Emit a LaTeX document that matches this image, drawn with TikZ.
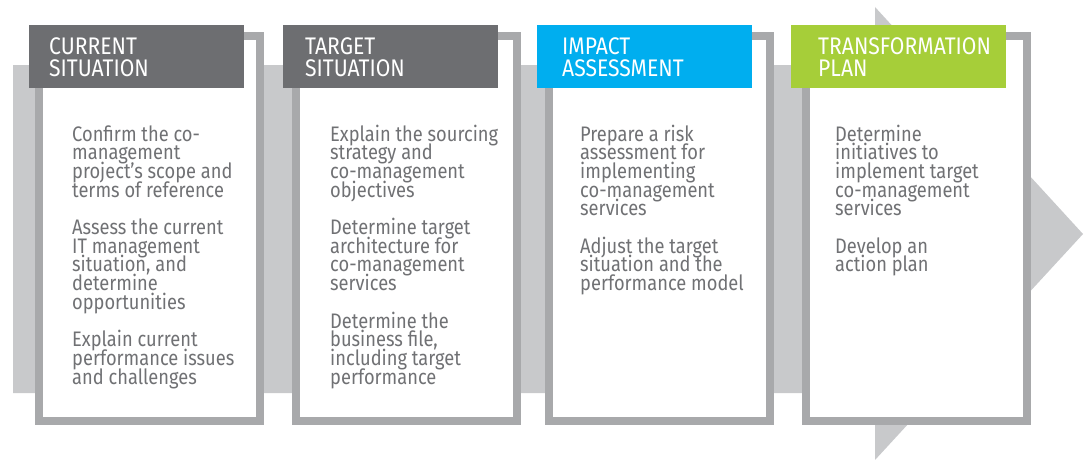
\documentclass[tikz,border=0pt]{standalone}
\usepackage{fontspec}
\setmainfont{Fira Sans}
\newfontfamily\hdrfont[FakeStretch=0.88]{Fira Sans}
\newfontfamily\bodyfont[FakeStretch=0.87]{Fira Sans}
\definecolor{arrowgray}{HTML}{C8C9CB}
\definecolor{framegray}{HTML}{A8A9AB}
\definecolor{hdrgray}{HTML}{6D6E71}
\definecolor{hdrblue}{HTML}{00AEEF}
\definecolor{hdrgreen}{HTML}{A6CE39}
\definecolor{txtgray}{HTML}{707174}
\tikzset{
  framebox/.style={draw=framegray, line width=8pt, fill=white},
  hdrbox/.style={anchor=north west, minimum width=215pt, minimum height=63pt, inner sep=0pt, draw=none},
  hdrtext/.style={anchor=base west, inner sep=0pt, text=white, font=\hdrfont\fontsize{24}{22}\selectfont},
  bodytext/.style={anchor=base west, inner sep=0pt, text=txtgray, font=\bodyfont\fontsize{21}{18.7}\selectfont},
}
\newcommand{\bodypar}[1]{\parbox[t]{200pt}{\lineskiplimit=-100pt\lineskip=0pt\raggedright #1}}
\newcommand{\hdrpar}[1]{\parbox[t]{210pt}{\lineskiplimit=-100pt\lineskip=0pt\raggedright #1}}
\begin{document}
\begin{tikzpicture}[x=1pt,y=-1pt]
\useasboundingbox (0,0) rectangle (1086,460);
% background arrow
\fill[arrowgray] (13,65) -- (875,65) -- (875,7) -- (1083,234) -- (875,460) -- (875,393) -- (13,393) -- cycle;
% frames
\draw[framebox] (39,36) rectangle (260,421);
\draw[framebox] (296,36) rectangle (517,421);
\draw[framebox] (549,36) rectangle (770,421);
\draw[framebox] (806,36) rectangle (1027,421);
% headers
\node[hdrbox, fill=hdrgray] (h1) at (29,25) {};
\node[hdrbox, fill=hdrgray] (h2) at (283,25) {};
\node[hdrbox, fill=hdrblue] (h3) at (537,25) {};
\node[hdrbox, fill=hdrgreen] (h4) at (791,25) {};
\node[hdrtext] (ht1) at (49,55) {\hdrpar{CURRENT\\SITUATION}};
\node[hdrtext] (ht2) at (305,55) {\hdrpar{TARGET\\SITUATION}};
\node[hdrtext] (ht3) at (562,55) {\hdrpar{IMPACT\\ASSESSMENT}};
\node[hdrtext] (ht4) at (818,55) {\hdrpar{TRANSFORMATION\\PLAN}};
% bodies
\node[bodytext] (b1) at (72,141) {\bodypar{Confirm the co-\\management\\project’s scope and\\terms of reference\\[18.7pt]Assess the current\\IT management\\situation, and\\determine\\opportunities\\[18.7pt]Explain current\\performance issues\\and challenges}};
\node[bodytext] (b2) at (330,141) {\bodypar{Explain the sourcing\\strategy and\\co-management\\objectives\\[18.7pt]Determine target\\architecture for\\co-management\\services\\[18.7pt]Determine the\\business file,\\including target\\performance}};
\node[bodytext] (b3) at (580,141) {\bodypar{Prepare a risk\\assessment for\\implementing\\co-management\\services\\[18.7pt]Adjust the target\\situation and the\\performance model}};
\node[bodytext] (b4) at (835,141) {\bodypar{Determine\\initiatives to\\implement target\\co-management\\services\\[18.7pt]Develop an\\action plan}};
\end{tikzpicture}
\end{document}
